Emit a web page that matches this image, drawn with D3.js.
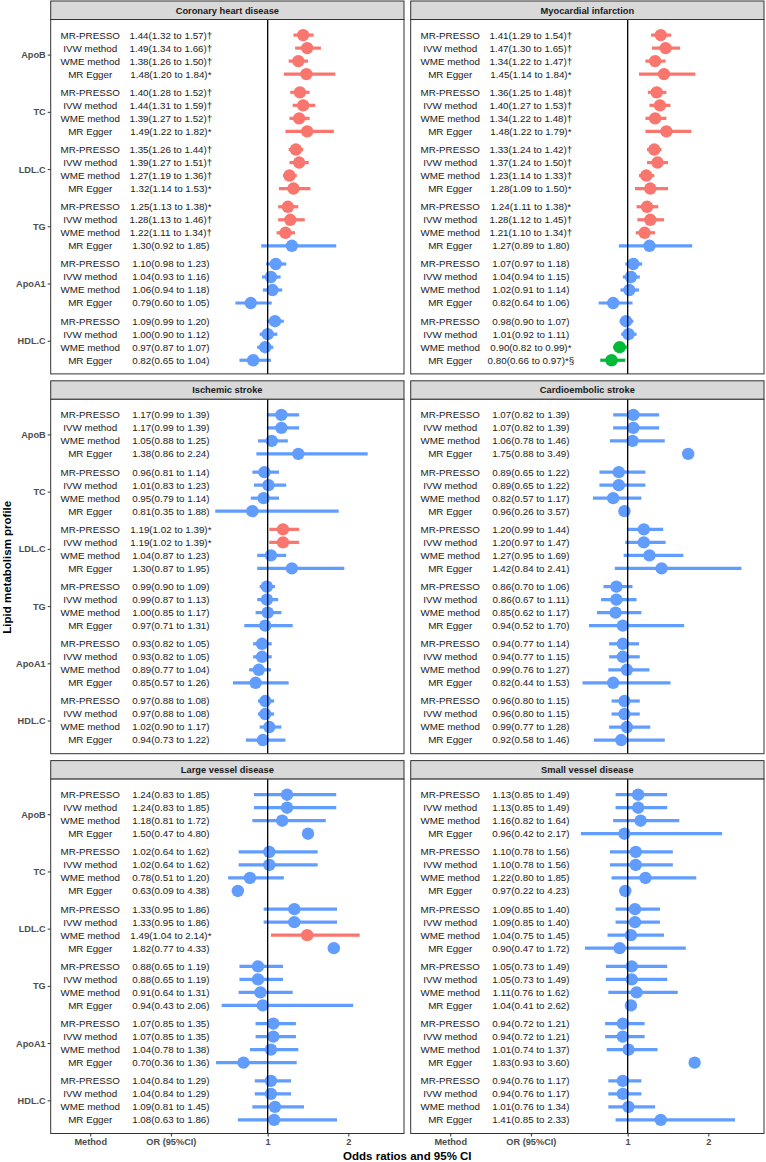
<!DOCTYPE html>
<html><head><meta charset="utf-8">
<script src="https://cdn.jsdelivr.net/npm/d3@7"></script>
<style>
body{margin:0;background:#fff}
svg{display:block}
text{font-family:"Liberation Sans",Arial,Helvetica,sans-serif}
</style>
</head><body>
<svg id="chart" width="766" height="1162"></svg>
<script>
// ---------------- DATA ----------------
const outcomes = ["Coronary heart disease","Myocardial infarction","Ischemic stroke","Cardioembolic stroke","Large vessel disease","Small vessel disease"];
const lipids = ["ApoB","TC","LDL.C","TG","ApoA1","HDL.C"];
const methods = ["MR-PRESSO","IVW method","WME method","MR Egger"];

// per outcome: 24 values in order lipid x method
const orValues = [
  [1.44,1.49,1.38,1.48, 1.40,1.44,1.39,1.49, 1.35,1.39,1.27,1.32, 1.25,1.28,1.22,1.30, 1.10,1.04,1.06,0.79, 1.09,1.00,0.97,0.82],
  [1.41,1.47,1.34,1.45, 1.36,1.40,1.34,1.48, 1.33,1.37,1.23,1.28, 1.24,1.28,1.21,1.27, 1.07,1.04,1.02,0.82, 0.98,1.01,0.90,0.80],
  [1.17,1.17,1.05,1.38, 0.96,1.01,0.95,0.81, 1.19,1.19,1.04,1.30, 0.99,0.99,1.00,0.97, 0.93,0.93,0.89,0.85, 0.97,0.97,1.02,0.94],
  [1.07,1.07,1.06,1.75, 0.89,0.89,0.82,0.96, 1.20,1.20,1.27,1.42, 0.86,0.86,0.85,0.94, 0.94,0.94,0.99,0.82, 0.96,0.96,0.99,0.92],
  [1.24,1.24,1.18,1.50, 1.02,1.02,0.78,0.63, 1.33,1.33,1.49,1.82, 0.88,0.88,0.91,0.94, 1.07,1.07,1.04,0.70, 1.04,1.04,1.09,1.08],
  [1.13,1.13,1.16,0.96, 1.10,1.10,1.22,0.97, 1.09,1.09,1.04,0.90, 1.05,1.05,1.11,1.04, 0.94,0.94,1.01,1.83, 0.94,0.94,1.01,1.41]
];
const lowerCI = [
  [1.32,1.34,1.26,1.20, 1.28,1.31,1.27,1.22, 1.26,1.27,1.19,1.14, 1.13,1.13,1.11,0.92, 0.98,0.93,0.94,0.60, 0.99,0.90,0.87,0.65],
  [1.29,1.30,1.22,1.14, 1.25,1.27,1.22,1.22, 1.24,1.24,1.14,1.09, 1.11,1.12,1.10,0.89, 0.97,0.94,0.91,0.64, 0.90,0.92,0.82,0.66],
  [0.99,0.99,0.88,0.86, 0.81,0.83,0.79,0.35, 1.02,1.02,0.87,0.87, 0.90,0.87,0.85,0.71, 0.82,0.82,0.77,0.57, 0.88,0.88,0.90,0.73],
  [0.82,0.82,0.78,0.88, 0.65,0.65,0.57,0.26, 0.99,0.97,0.95,0.84, 0.70,0.67,0.62,0.52, 0.77,0.77,0.76,0.44, 0.80,0.80,0.77,0.58],
  [0.83,0.83,0.81,0.47, 0.64,0.64,0.51,0.09, 0.95,0.95,1.04,0.77, 0.65,0.65,0.64,0.43, 0.85,0.85,0.78,0.36, 0.84,0.84,0.81,0.63],
  [0.85,0.85,0.82,0.42, 0.78,0.78,0.80,0.22, 0.85,0.85,0.75,0.47, 0.73,0.73,0.76,0.41, 0.72,0.72,0.74,0.93, 0.76,0.76,0.76,0.85]
];
const upperCI = [
  [1.57,1.66,1.50,1.84, 1.52,1.59,1.52,1.82, 1.44,1.51,1.36,1.53, 1.38,1.46,1.34,1.85, 1.23,1.16,1.18,1.05, 1.20,1.12,1.07,1.04],
  [1.54,1.65,1.47,1.84, 1.48,1.53,1.48,1.79, 1.42,1.50,1.33,1.50, 1.38,1.45,1.34,1.80, 1.18,1.15,1.14,1.06, 1.07,1.11,0.99,0.97],
  [1.39,1.39,1.25,2.24, 1.14,1.23,1.14,1.88, 1.39,1.39,1.23,1.95, 1.09,1.13,1.17,1.31, 1.05,1.05,1.04,1.26, 1.08,1.08,1.17,1.22],
  [1.39,1.39,1.46,3.49, 1.22,1.22,1.17,3.57, 1.44,1.47,1.69,2.41, 1.06,1.11,1.17,1.70, 1.14,1.15,1.27,1.53, 1.15,1.15,1.28,1.46],
  [1.85,1.85,1.72,4.80, 1.62,1.62,1.20,4.38, 1.86,1.86,2.14,4.33, 1.19,1.19,1.31,2.06, 1.35,1.35,1.38,1.36, 1.29,1.29,1.45,1.86],
  [1.49,1.49,1.64,2.17, 1.56,1.56,1.85,4.23, 1.40,1.40,1.45,1.72, 1.49,1.49,1.62,2.62, 1.21,1.21,1.37,3.60, 1.17,1.17,1.34,2.33]
];
const marks = [
  ["†","†","†","*", "†","†","†","*", "†","†","†","*", "*","†","†","", "","","","", "","","",""],
  ["†","†","†","*", "†","†","†","*", "†","†","†","*", "*","†","†","", "","","","", "","","*","*§"],
  ["","","","", "","","","", "*","*","","", "","","","", "","","","", "","","",""],
  ["","","","", "","","","", "","","","", "","","","", "","","","", "","","",""],
  ["","","","", "","","","", "","","*","", "","","","", "","","","", "","","",""],
  ["","","","", "","","","", "","","","", "","","","", "","","","", "","","",""]
];
const xTickValues = [-1.2, -0.2, 1, 2];
const xTickLabels = ["Method", "OR (95%CI)", "1", "2"];
const xLimits = [-1.5, 2.5];
const xTitle = "Odds ratios and 95% CI";
const yTitle = "Lipid metabolism profile";

// ---------------- LAYOUT ----------------
const svg = d3.select("#chart");
const colX = [50.7, 410.7];
const pw = 353.3;
const rowTop = [1, 380.8, 760.6];
const stripH = 18.5;
const ph = 354.4;
const groupGap = 4.4;

const x = d3.scaleLinear().domain([-1.69, 2.69]).range([0, pw]);
const y = d3.scaleLinear().domain([-1.2, 26.05]).range([0, ph]);
const color = d3.scaleOrdinal().domain(["pos","neg","ns"]).range(["#F8766D","#00BA38","#619CFF"]);
const fmt = d3.format(".2f");

outcomes.forEach((name, i) => {
  const col = i % 2, row = Math.floor(i / 2);
  const g = svg.append("g").attr("transform", `translate(${colX[col]},${rowTop[row]})`);

  // strip
  g.append("rect").attr("x", 0).attr("y", 0).attr("width", pw).attr("height", stripH)
    .attr("fill", "#D9D9D9").attr("stroke", "#333").attr("stroke-width", 1);
  g.append("text").attr("x", pw / 2).attr("y", stripH / 2).attr("dy", "0.35em")
    .attr("text-anchor", "middle").attr("font-size", 9.3).attr("font-weight", "bold")
    .attr("fill", "#1A1A1A").text(name);

  const body = g.append("g").attr("transform", `translate(0,${stripH})`);
  body.append("rect").attr("width", pw).attr("height", ph).attr("fill", "#fff");

  const rows = [];
  lipids.forEach((lp, li) => methods.forEach((m, mi) => {
    const k = li * 4 + mi;
    const o = orValues[i][k], lo = lowerCI[i][k], hi = upperCI[i][k];
    rows.push({lipid: lp, method: m, pos: li * groupGap + mi, or: o, lo: lo, hi: hi,
      cat: lo > 1 ? "pos" : (hi < 1 ? "neg" : "ns"),
      label: `${fmt(o)}(${fmt(lo)} to ${fmt(hi)})${marks[i][k]}`});
  }));

  // CI lines (removed when outside the scale limits)
  body.selectAll("line.ci").data(rows.filter(d => d.lo >= xLimits[0] && d.hi <= xLimits[1]))
    .join("line").attr("class", "ci")
    .attr("x1", d => x(d.lo)).attr("x2", d => x(d.hi))
    .attr("y1", d => y(d.pos)).attr("y2", d => y(d.pos))
    .attr("stroke", d => color(d.cat)).attr("stroke-width", 3.2);
  // points
  body.selectAll("circle").data(rows).join("circle")
    .attr("cx", d => x(d.or)).attr("cy", d => y(d.pos)).attr("r", 6.2)
    .attr("fill", d => color(d.cat));
  // reference line
  body.append("line").attr("x1", x(1)).attr("x2", x(1)).attr("y1", 0).attr("y2", ph)
    .attr("stroke", "#000").attr("stroke-width", 1.3);
  // text columns
  body.selectAll("text.m").data(rows).join("text").attr("class", "m")
    .attr("x", x(xTickValues[0])).attr("y", d => y(d.pos)).attr("dy", "0.35em")
    .attr("text-anchor", "middle").attr("font-size", 9.8).attr("fill", "#1A1A1A")
    .text(d => d.method);
  body.selectAll("text.o").data(rows).join("text").attr("class", "o")
    .attr("x", x(xTickValues[1])).attr("y", d => y(d.pos)).attr("dy", "0.35em")
    .attr("text-anchor", "middle").attr("font-size", 9.8).attr("fill", "#1A1A1A")
    .text(d => d.label);
  // border
  body.append("rect").attr("width", pw).attr("height", ph).attr("fill", "none")
    .attr("stroke", "#333").attr("stroke-width", 1);

  if (col === 0) {
    const ya = body.append("g").call(d3.axisLeft(y)
      .tickValues(lipids.map((d, li) => li * groupGap + 1.5))
      .tickFormat((d, li) => lipids[li]).tickSize(3).tickPadding(2));
    ya.select(".domain").remove();
    ya.selectAll("line").attr("stroke", "#333");
    ya.selectAll("text").attr("font-size", 9.2).attr("font-weight", "bold").attr("fill", "#4D4D4D")
      .attr("font-family", '"Liberation Sans",Arial,sans-serif');
  }
  if (row === 2) {
    const xa = body.append("g").attr("transform", `translate(0,${ph})`).call(d3.axisBottom(x)
      .tickValues(xTickValues).tickFormat((d, ti) => xTickLabels[ti]).tickSize(3).tickPadding(2));
    xa.select(".domain").remove();
    xa.selectAll("line").attr("stroke", "#333");
    xa.selectAll("text").attr("font-size", 9.2).attr("font-weight", "bold").attr("fill", "#4D4D4D")
      .attr("font-family", '"Liberation Sans",Arial,sans-serif');
  }
});

// axis titles
svg.append("text").attr("x", (colX[0] + colX[1] + pw) / 2).attr("y", 1156).attr("dy", "0.35em")
  .attr("text-anchor", "middle").attr("font-size", 11.5).attr("font-weight", "bold").attr("fill", "#000")
  .text(xTitle);
svg.append("text").attr("transform", `translate(7,${(rowTop[0] + rowTop[2] + stripH + ph) / 2}) rotate(-90)`)
  .attr("dy", "0.35em").attr("text-anchor", "middle").attr("font-size", 11.5).attr("font-weight", "bold")
  .attr("fill", "#000").text(yTitle);
</script>
</body></html>
